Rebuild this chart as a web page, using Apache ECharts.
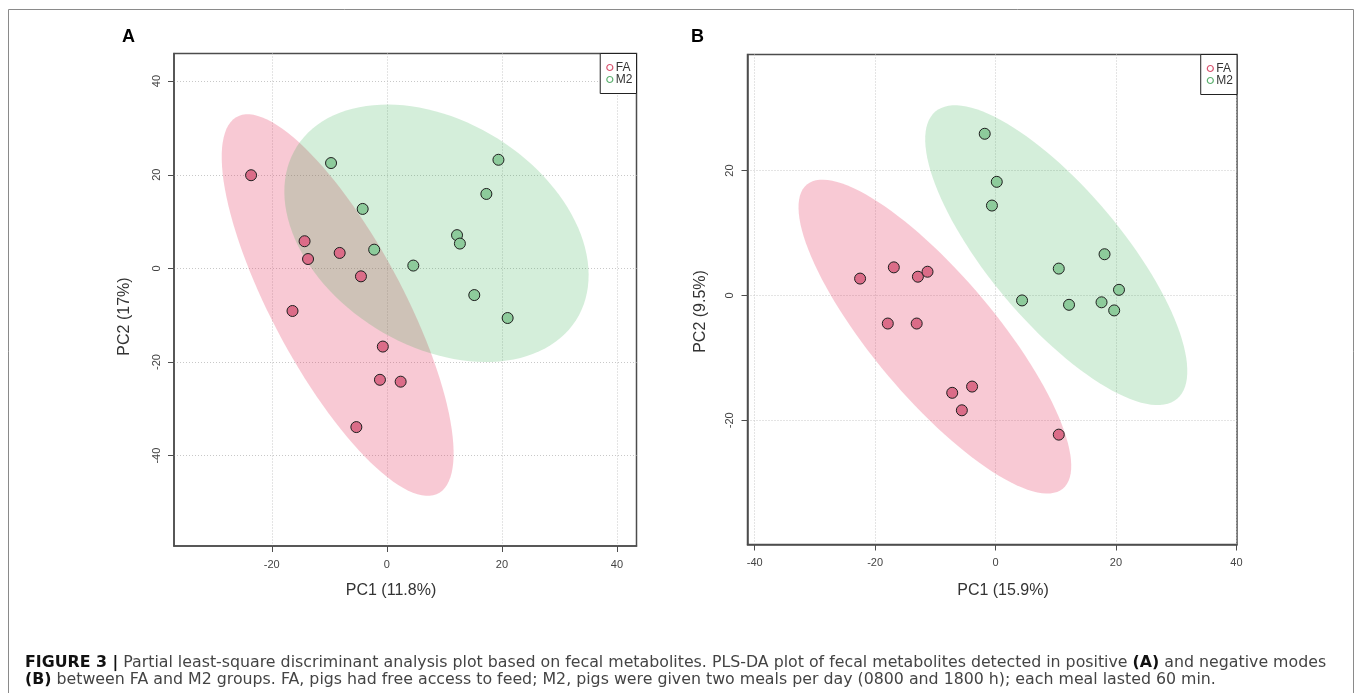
<!DOCTYPE html>
<html><head><meta charset="utf-8">
<script src="https://cdn.jsdelivr.net/npm/echarts@6/dist/echarts.min.js"></script>
<style>html,body{margin:0;padding:0;background:#fff}#c{width:1357px;height:693px}</style>
</head><body><div id="c"></div>
<script>
// ---- data ----
const groups = ['FA', 'M2'];
const xTicksA = [-20, 0, 20, 40];
const yTicksA = [-40, -20, 0, 20, 40];
const xTicksB = [-40, -20, 0, 20, 40];
const yTicksB = [-20, 0, 20];

const faA_x = [-23.6, -14.3, -13.7, -8.2, -4.5, -16.4, -0.7, -1.2, 2.4, -5.3];
const faA_y = [19.9, 5.8, 2.0, 3.3, -1.7, -9.1, -16.7, -23.8, -24.2, -33.9];
const m2A_x = [-9.7, 19.4, 17.3, -4.2, 12.2, 12.7, -2.2, 4.6, 15.2, 21.0];
const m2A_y = [22.5, 23.2, 15.9, 12.7, 7.1, 5.3, 4.0, 0.6, -5.7, -10.6];

const faB_x = [-22.5, -16.9, -12.9, -11.3, -17.9, -13.1, -7.2, -3.9, -5.6, 10.5];
const faB_y = [2.7, 4.5, 3.0, 3.8, -4.5, -4.5, -15.6, -14.6, -18.4, -22.3];
const m2B_x = [-1.8, 0.2, -0.6, 18.1, 10.5, 20.5, 4.4, 12.2, 17.6, 19.7];
const m2B_y = [25.9, 18.2, 14.4, 6.6, 4.3, 0.9, -0.8, -1.5, -1.1, -2.4];

const axisTitlesA = ['PC1 (11.8%)', 'PC2 (17%)'];
const axisTitlesB = ['PC1 (15.9%)', 'PC2 (9.5%)'];

// ---- helpers ----
function zip(xs, ys) { return xs.map((x, i) => [x, ys[i]]); }
function mean(a) { return a.reduce((s, v) => s + v, 0) / a.length; }
// 95% confidence ellipse of the group (as in ellipse::ellipse with cor & sd)
function confEllipse(xs, ys, level) {
  const n = xs.length, mx = mean(xs), my = mean(ys);
  let sxx = 0, syy = 0, sxy = 0;
  for (let i = 0; i < n; i++) {
    const dx = xs[i] - mx, dy = ys[i] - my;
    sxx += dx * dx; syy += dy * dy; sxy += dx * dy;
  }
  const sx = Math.sqrt(sxx / (n - 1)), sy = Math.sqrt(syy / (n - 1));
  const r = sxy / (n - 1) / (sx * sy);
  const t = Math.sqrt(-2 * Math.log(1 - level));
  const d = Math.acos(r);
  const pts = [];
  for (let i = 0; i < 120; i++) {
    const a = 2 * Math.PI * i / 120;
    pts.push([mx + t * sx * Math.cos(a + d / 2), my + t * sy * Math.cos(a - d / 2)]);
  }
  return pts;
}

const COL = {
  faFill: '#DB6C88', m2Fill: '#8DCB9B',
  faEll: 'rgba(230,60,100,0.28)', m2Ell: 'rgba(40,170,70,0.2)',
  faLeg: '#D9536F', m2Leg: '#5DB070'
};
const FONT = '"Liberation Sans", Arial, sans-serif';
const CAPFONT = '"DejaVu Sans", sans-serif';

function ellipseSeries(pts, gi, color, name) {
  return {
    type: 'custom', name: name, xAxisIndex: gi, yAxisIndex: gi, z: 1, silent: true,
    data: [[0, 0]],
    renderItem: function (params, api) {
      return { type: 'polygon', shape: { points: pts.map(p => api.coord(p)) }, style: { fill: color } };
    }
  };
}
function scatterSeries(data, gi, color, name) {
  return {
    type: 'scatter', name: name, xAxisIndex: gi, yAxisIndex: gi, z: 3,
    symbol: 'circle', symbolSize: 11, data: data,
    itemStyle: { color: color, borderColor: '#1e1e1e', borderWidth: 1, opacity: 1 }
  };
}
function xAxis(gi, min, max, ticks) {
  return {
    gridIndex: gi, type: 'value', min: min, max: max,
    axisLine: { show: true, onZero: false, lineStyle: { color: '#4d4d4d', width: 1.5 } },
    axisTick: { show: true, length: 6, customValues: ticks, lineStyle: { color: '#4d4d4d' } },
    axisLabel: { customValues: ticks, margin: 13, fontSize: 11, color: '#444', fontFamily: FONT },
    splitLine: { show: true, lineStyle: { type: [1, 2], color: '#c8c8c8', width: 1 } }
  };
}
function yAxis(gi, min, max, ticks) {
  return {
    gridIndex: gi, type: 'value', min: min, max: max,
    axisLine: { show: true, onZero: false, lineStyle: { color: '#4d4d4d', width: 1.5 } },
    axisTick: { show: true, length: 6, customValues: ticks, lineStyle: { color: '#4d4d4d' } },
    axisLabel: { customValues: ticks, rotate: 90, margin: 12, fontSize: 11, color: '#444', fontFamily: FONT },
    splitLine: { show: true, lineStyle: { type: [1, 2], color: '#c8c8c8', width: 1 } }
  };
}
function legendFor(right, top) {
  return {
    orient: 'vertical', right: right, top: top, selectedMode: false,
    icon: 'circle', itemWidth: 6, itemHeight: 6, itemGap: 0,
    padding: [8, 4, 8, 6], borderColor: '#222', borderWidth: 1, backgroundColor: '#fff',
    textStyle: { fontSize: 12, color: '#333', fontFamily: FONT, lineHeight: 12, padding: [0, 0, 0, -2] },
    data: [
      { name: groups[0], itemStyle: { color: '#fff', borderColor: COL.faLeg, borderWidth: 1.2 } },
      { name: groups[1], itemStyle: { color: '#fff', borderColor: COL.m2Leg, borderWidth: 1.2 } }
    ]
  };
}

const chart = echarts.init(document.getElementById('c'), null, { renderer: 'canvas' });
const bold = 'bold 15.8px ' + CAPFONT, norm = '15.8px ' + CAPFONT;
chart.setOption({
  animation: false,
  backgroundColor: '#fff',
  grid: [
    { left: 174, top: 53.5, width: 462.5, height: 492.5, show: true, borderColor: '#4d4d4d', borderWidth: 1.5, backgroundColor: 'transparent' },
    { left: 747.5, top: 54.5, width: 489.5, height: 490, show: true, borderColor: '#4d4d4d', borderWidth: 1.5, backgroundColor: 'transparent' }
  ],
  xAxis: [xAxis(0, -37.0, 43.4, xTicksA), xAxis(1, -41.2, 40.1, xTicksB)],
  yAxis: [yAxis(0, -59.3, 45.9, yTicksA), yAxis(1, -39.9, 38.6, yTicksB)],
  legend: [legendFor(1357 - 636.5, 53.5), legendFor(1357 - 1237, 54.5)],
  series: [
    ellipseSeries(confEllipse(faA_x, faA_y, 0.95), 0, COL.faEll, 'FA'),
    ellipseSeries(confEllipse(m2A_x, m2A_y, 0.95), 0, COL.m2Ell, 'M2'),
    scatterSeries(zip(faA_x, faA_y), 0, COL.faFill, 'FA'),
    scatterSeries(zip(m2A_x, m2A_y), 0, COL.m2Fill, 'M2'),
    ellipseSeries(confEllipse(faB_x, faB_y, 0.95), 1, COL.faEll, 'FA'),
    ellipseSeries(confEllipse(m2B_x, m2B_y, 0.95), 1, COL.m2Ell, 'M2'),
    scatterSeries(zip(faB_x, faB_y), 1, COL.faFill, 'FA'),
    scatterSeries(zip(m2B_x, m2B_y), 1, COL.m2Fill, 'M2')
  ],
  graphic: [
    { type: 'rect', shape: { x: 8.5, y: 9.5, width: 1345, height: 700 }, style: { fill: 'none', stroke: '#8a8a8a', lineWidth: 1 }, silent: true },
    { type: 'text', x: 128.5, y: 37, style: { text: 'A', font: 'bold 18px ' + FONT, fill: '#000', align: 'center', verticalAlign: 'middle' } },
    { type: 'text', x: 697.5, y: 37.5, style: { text: 'B', font: 'bold 18px ' + FONT, fill: '#000', align: 'center', verticalAlign: 'middle' } },
    { type: 'text', x: 391, y: 590.5, style: { text: axisTitlesA[0], font: '16px ' + FONT, fill: '#333', align: 'center', verticalAlign: 'middle' } },
    { type: 'text', x: 125, y: 316.5, rotation: Math.PI / 2, style: { text: axisTitlesA[1], font: '16px ' + FONT, fill: '#333', align: 'center', verticalAlign: 'middle' } },
    { type: 'text', x: 1003, y: 590.5, style: { text: axisTitlesB[0], font: '16px ' + FONT, fill: '#333', align: 'center', verticalAlign: 'middle' } },
    { type: 'text', x: 700.5, y: 311.5, rotation: Math.PI / 2, style: { text: axisTitlesB[1], font: '16px ' + FONT, fill: '#333', align: 'center', verticalAlign: 'middle' } },
    { type: 'text', x: 25, y: 662.5, style: {
        text: '{b|FIGURE 3 |} {n|Partial least-square discriminant analysis plot based on fecal metabolites. PLS-DA plot of fecal metabolites detected in positive }{b|(A)}{n| and negative modes}',
        font: norm, fill: '#444', verticalAlign: 'middle',
        rich: { b: { font: bold, fill: '#111' }, n: { font: norm, fill: '#444' } } } },
    { type: 'text', x: 25, y: 680, style: {
        text: '{b|(B)}{n| between FA and M2 groups. FA, pigs had free access to feed; M2, pigs were given two meals per day (0800 and 1800 h); each meal lasted 60 min.}',
        font: norm, fill: '#444', verticalAlign: 'middle',
        rich: { b: { font: bold, fill: '#111' }, n: { font: norm, fill: '#444' } } } }
  ]
});
</script></body></html>
